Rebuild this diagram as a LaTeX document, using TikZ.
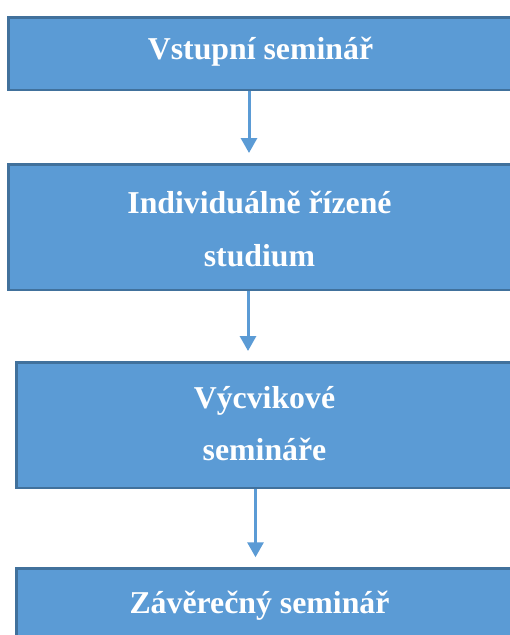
\documentclass[tikz,border=0pt]{standalone}
\usepackage{fontspec}
\setmainfont{Liberation Serif}
\usetikzlibrary{arrows.meta}
\definecolor{boxfill}{HTML}{5B9BD5}
\definecolor{boxline}{HTML}{41719C}
\tikzset{
  stagebox/.style={rectangle, fill=boxfill, draw=boxline, line width=2.5pt, inner sep=0pt},
  lbl/.style={anchor=base, text=white, font=\fontsize{31.8}{36}\selectfont\bfseries, inner sep=0pt},
  arr/.style={draw=boxfill, line width=3pt, -{Triangle[width=16pt,length=15pt]}, shorten >=10pt}
}
\begin{document}
\begin{tikzpicture}[x=1pt,y=-1pt]
\useasboundingbox (0,0) rectangle (510,635);
\fill[white] (0,0) rectangle (510,635);
\clip (0,0) rectangle (510,635);
\node[stagebox, minimum width=502.5pt, minimum height=72.5pt] (b1) at (259.5,53.5) {};
\node[stagebox, minimum width=502.5pt, minimum height=125.5pt] (b2) at (259.5,227) {};
\node[stagebox, minimum width=496.5pt, minimum height=125.5pt] (b3) at (264.5,425) {};
\node[stagebox, minimum width=496.5pt, minimum height=110pt] (b4) at (264.5,623.5) {};
\node[lbl] (t1) at (260.5,59) {Vstupní seminář};
\node[lbl] (t2a) at (259.5,213) {Individuálně řízené};
\node[lbl] (t2b) at (259.5,266) {studium};
\node[lbl] (t3a) at (264.5,408) {Výcvikové};
\node[lbl] (t3b) at (264.5,460) {semináře};
\node[lbl] (t4) at (259.5,613) {Závěrečný seminář};
\coordinate (x1) at (249,0);
\coordinate (x2) at (248,0);
\coordinate (x3) at (255.5,0);
\draw[arr] (b1.south -| x1) -- (b2.north -| x1);
\draw[arr] (b2.south -| x2) -- (b3.north -| x2);
\draw[arr] (b3.south -| x3) -- (b4.north -| x3);
\end{tikzpicture}
\end{document}
